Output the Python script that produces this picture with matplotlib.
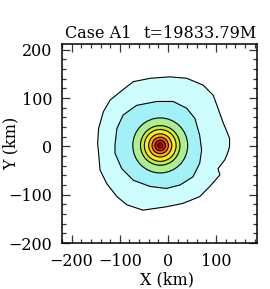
import matplotlib
matplotlib.use("Agg")
import matplotlib.pyplot as plt
from matplotlib.patches import Polygon, Circle
from matplotlib.ticker import MultipleLocator

# ---- data (km) ----
outer_x = [128, 114, 104, 94, 73, 39, 4, -37, -72, -99, -120, -134, -144,
           -146, -144, -141, -127, -106, -85, -52, -3, 31, 66, 87, 108, 104, 118, 124, 128]
outer_y = [17, 51, 79, 106, 127, 141, 144, 141, 134, 113, 96, 72, 37,
           6, -14, -49, -77, -104, -121, -132, -125, -118, -104, -83, -59, -46, -28, -14, 0]

second_x = [66, 56, 39, 11, -23, -65, -93, -106, -110, -110, -96, -72, -37, -3, 25, 52, 66, 70]
second_y = [23, 58, 79, 93, 93, 85, 65, 37, 3, -14, -46, -70, -83, -87, -80, -63, -35, -8]

core_center = (-16, 2)
core_radii = [57, 41, 33, 24, 17, 11, 5]

level_colors = ['#cdfdfd', '#a2f1f7', '#aeee92', '#c8ee30', '#ffee00',
                '#ffbb00', '#ff7000', '#e81400', '#a00000']

title_left = "Case A1"
title_right = "t=19833.79M"
xlabel = "X (km)"
ylabel = "Y (km)"

plt.rcParams['font.family'] = ['DejaVu Serif']
plt.rcParams['axes.unicode_minus'] = True

fig = plt.figure(figsize=(2.70, 2.89), dpi=100)
ax_h = 243 - 44
ax = fig.add_axes([62/270, (289-243)/289, 195/270, ax_h/289])

lw = 0.8
ax.add_patch(Polygon(list(zip(outer_x, outer_y)), closed=True,
                     facecolor=level_colors[0], edgecolor='black', linewidth=lw, zorder=1))
ax.add_patch(Polygon(list(zip(second_x, second_y)), closed=True,
                     facecolor=level_colors[1], edgecolor='black', linewidth=lw, zorder=2))
for i, r in enumerate(core_radii):
    ax.add_patch(Circle(core_center, r, facecolor=level_colors[i + 2],
                        edgecolor='black', linewidth=lw, zorder=3 + i))

ax.set_xlim(-220, 185)
ax.set_ylim(-200, 212)

ax.xaxis.set_major_locator(MultipleLocator(100))
ax.xaxis.set_minor_locator(MultipleLocator(20))
ax.yaxis.set_major_locator(MultipleLocator(100))
ax.yaxis.set_minor_locator(MultipleLocator(20))
ax.tick_params(which='both', direction='in', top=True, right=True, labelsize=11.5,
               width=0.9, color='#333333', pad=7)
ax.tick_params(which='major', length=6)
ax.tick_params(which='minor', length=3)
for s in ax.spines.values():
    s.set_linewidth(1.1)

ax.set_xlabel(xlabel, fontsize=11.5)
ax.set_ylabel(ylabel, fontsize=11.5)
ax.xaxis.set_label_coords(0.54, (243 - 271) / ax_h)
ax.yaxis.set_label_coords((20 - 62) / 195, 0.5)

ax.text(0.015, 1 + 11 / ax_h, title_left, transform=ax.transAxes,
        ha='left', va='center', fontsize=11.5)
ax.text(1.0, 1 + 11 / ax_h, title_right, transform=ax.transAxes,
        ha='right', va='center', fontsize=11.5)

fig.savefig("out.png", dpi=100)
